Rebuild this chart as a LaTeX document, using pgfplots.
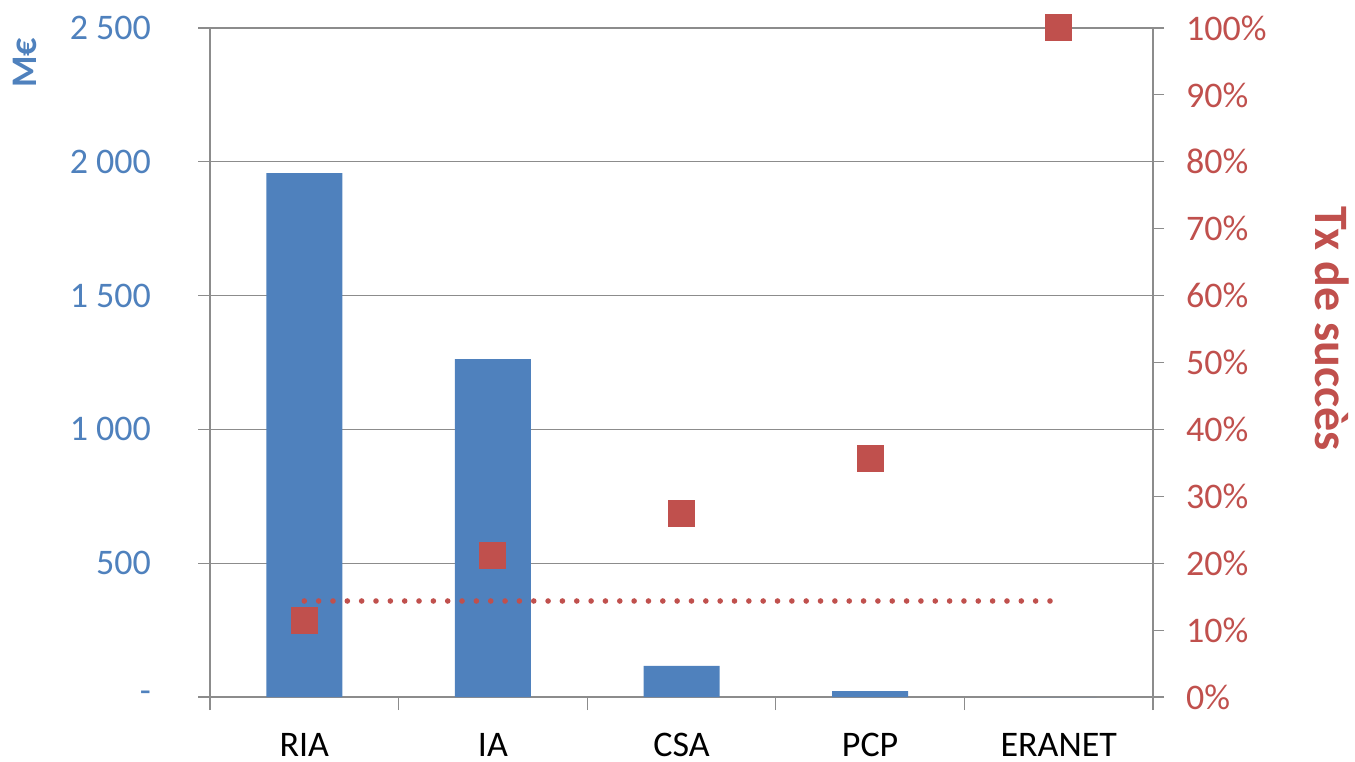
\documentclass[border=0pt]{standalone}
\usepackage{fontspec}
\setmainfont{Carlito}
\usepackage{pgfplots}
\pgfplotsset{compat=1.18}
\definecolor{cblue}{HTML}{4F81BD}
\definecolor{cred}{HTML}{C0504D}
\definecolor{cgray}{HTML}{8C8C8C}
\begin{document}
\begin{tikzpicture}
\path[use as bounding box] (0,0) rectangle (677.5pt,380.5pt);
\begin{axis}[
  at={(105pt,32pt)}, anchor=south west,
  scale only axis, width=471.5pt, height=334.5pt,
  xmin=-0.5, xmax=4.5, ymin=0, ymax=2500,
  axis y line*=left, axis x line*=bottom,
  axis line style={cgray, line width=0.6pt, -},
  tick align=outside,
  xtick={0,1,2,3,4}, xticklabels={RIA,IA,CSA,PCP,ERANET},
  major x tick style={draw=none},
  minor xtick={-0.5,0.5,1.5,2.5,3.5,4.5},
  minor tick length=6.5pt,
  minor x tick style={cgray, line width=0.6pt},
  ytick={0,500,1000,1500,2000,2500},
  yticklabels={-\hspace{8pt},500,1 000,1 500,2 000,2 500},
  major tick length=6pt,
  y tick style={cgray, line width=0.6pt},
  ymajorgrids, major grid style={cgray, line width=0.6pt},
  xticklabel style={font=\fontsize{18}{20}\selectfont, text=black, inner sep=0pt, yshift=-12pt},
  yticklabel style={font=\fontsize{18}{20}\selectfont, text=cblue, xshift=-20pt},
  clip=false,
]
\addplot[ybar, bar width=38pt, fill=cblue, draw=none] coordinates {(0,1958) (1,1263) (2,116) (3,22) (4,0)};
\end{axis}
\begin{axis}[
  at={(105pt,32pt)}, anchor=south west,
  scale only axis, width=471.5pt, height=334.5pt,
  xmin=-0.5, xmax=4.5, ymin=0, ymax=1,
  axis y line*=right, axis x line=none,
  axis line style={cgray, line width=0.6pt, -},
  tick align=outside,
  ytick={0,0.1,0.2,0.3,0.4,0.5,0.6,0.7,0.8,0.9,1},
  yticklabels={0\%,10\%,20\%,30\%,40\%,50\%,60\%,70\%,80\%,90\%,100\%},
  major tick length=5.5pt,
  y tick style={cgray, line width=0.6pt},
  yticklabel style={font=\fontsize{18}{20}\selectfont, text=cred, xshift=7.5pt},
  clip=false,
]
\addplot[cred, line width=2.8pt, line cap=round, dash pattern=on 0pt off 7.17pt] coordinates {(0,0.1435) (3.962,0.1435)};
\addplot[only marks, color=cred, mark=square*, mark size=6.5pt, mark options={fill=cred, draw=cred, line width=0pt}] coordinates {(0,0.115) (1,0.211) (2,0.274) (3,0.356) (4,1)};
\end{axis}
\node[rotate=90, text=cblue, font=\fontsize{18}{20}\selectfont\bfseries] at (12.5pt,349pt) {M€};
\node[rotate=-90, text=cred, font=\fontsize{24}{26}\selectfont\bfseries] at (666pt,216pt) {Tx de succès};
\end{tikzpicture}
\end{document}
